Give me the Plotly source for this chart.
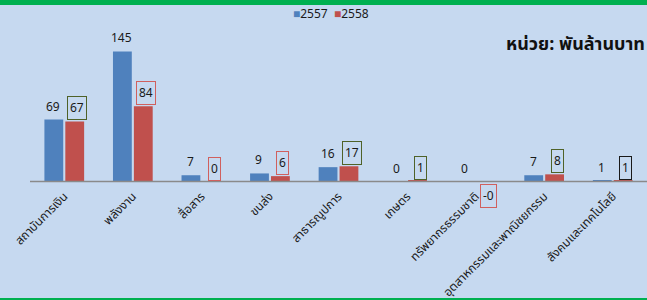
import plotly.graph_objects as go

categories = ["สถาบันการเงิน", "พลังงาน", "สื่อสาร", "ขนส่ง", "สาธารณูปการ",
              "เกษตร", "ทรัพยากรธรรมชาติ", "อุตสาหกรรมและพาณิชยกรรม", "สังคมและเทคโนโลยี"]
values_2557 = [69, 145, 7, 9, 16, 0, 0, 7, 1]
values_2558 = [67, 84, 0, 6, 17, 1, -0.3, 8, 1]
labels_2557 = ["69", "145", "7", "9", "16", "0", "0", "7", "1"]
labels_2558 = ["67", "84", "0", "6", "17", "1", "-0", "8", "1"]
box_colors_2558 = ["#4F6228", "#D0605E", "#D0605E", "#D0605E", "#4F6228",
                   "#4F6228", "#D0605E", "#4F6228", "#1A1A1A"]
series_names = ["2557", "2558"]

BG = "#C6D9F0"
BLUE = "#4F81BD"
RED = "#C0504D"
GREEN = "#00B050"
FONT = "Tahoma, 'Noto Sans Thai', 'Noto Sans', Arial, sans-serif"

W, H = 647, 300
ML, MR, MT, MB = 30, 0, 38, 114
ymin, ymax = -5, 160
plot_h = H - MT - MB

def py(pix):
    return (H - MB - pix) / plot_h

def px(pix):
    return (pix - ML) / (W - ML - MR)

fig = go.Figure()
fig.add_trace(go.Bar(name=series_names[0], x=categories, y=values_2557, marker_color=BLUE,
                     marker_line_width=0))
fig.add_trace(go.Bar(name=series_names[1], x=categories, y=values_2558, marker_color=RED,
                     marker_line_width=0))

ann = []
for i, c in enumerate(categories):
    v = values_2557[i]
    ann.append(dict(x=c, y=max(v, 0), xref="x", yref="y", text=labels_2557[i],
                    showarrow=False, xshift=-11, yshift=13,
                    font=dict(size=12, color="#1A1A1A", family=FONT)))
    v2 = values_2558[i]
    ys = 13 if v2 >= 0 else -14
    ann.append(dict(x=c, y=v2 if v2 > 0 else 0, xref="x", yref="y", text=labels_2558[i],
                    showarrow=False, xshift=13, yshift=ys,
                    bordercolor=box_colors_2558[i], borderwidth=1, borderpad=2,
                    bgcolor=BG,
                    font=dict(size=12, color="#1A1A1A", family=FONT)))

ann.append(dict(x=px(504), y=py(44), xref="paper", yref="paper", xanchor="left",
                yanchor="middle", text="<b>หน่วย: พันล้านบาท</b>", showarrow=False,
                font=dict(size=18, color="#111111", family=FONT)))

legend_text = (f"<span style='color:{BLUE}'>■</span>{series_names[0]}  "
               f"<span style='color:{RED}'>■</span>{series_names[1]}")
ann.append(dict(x=px(331), y=py(14), xref="paper", yref="paper", xanchor="center",
                yanchor="middle", text=legend_text, showarrow=False,
                font=dict(size=12, color="#1A1A1A", family=FONT)))

shapes = [
    dict(type="rect", xref="paper", yref="paper", x0=px(-5), x1=px(W + 5),
         y0=py(5), y1=py(-2), fillcolor=GREEN, line_width=0, layer="above"),
    dict(type="rect", xref="paper", yref="paper", x0=px(-5), x1=px(W + 5),
         y0=py(302), y1=py(298), fillcolor=GREEN, line_width=0, layer="above"),
    dict(type="line", xref="paper", yref="y", x0=0, x1=1, y0=0, y1=0,
         line=dict(color="#8A8A8A", width=1.5), layer="above"),
]

fig.update_layout(
    width=W, height=H,
    margin=dict(l=ML, r=MR, t=MT, b=MB, pad=0),
    paper_bgcolor=BG, plot_bgcolor=BG,
    barmode="group", bargap=0.39, bargroupgap=0.1,
    font=dict(family=FONT, size=12, color="#1A1A1A"),
    showlegend=False,
    annotations=ann,
    shapes=shapes,
    xaxis=dict(showgrid=False, showline=False, tickangle=-45, ticks="",
               tickfont=dict(size=12, family=FONT, color="#1A1A1A"), zeroline=False),
    yaxis=dict(range=[ymin, ymax], visible=False, showgrid=False, zeroline=False),
)

fig.write_html("out.html", config={"displayModeBar": False},
               post_script="document.body.style.margin='0';document.body.style.overflow='hidden';")
